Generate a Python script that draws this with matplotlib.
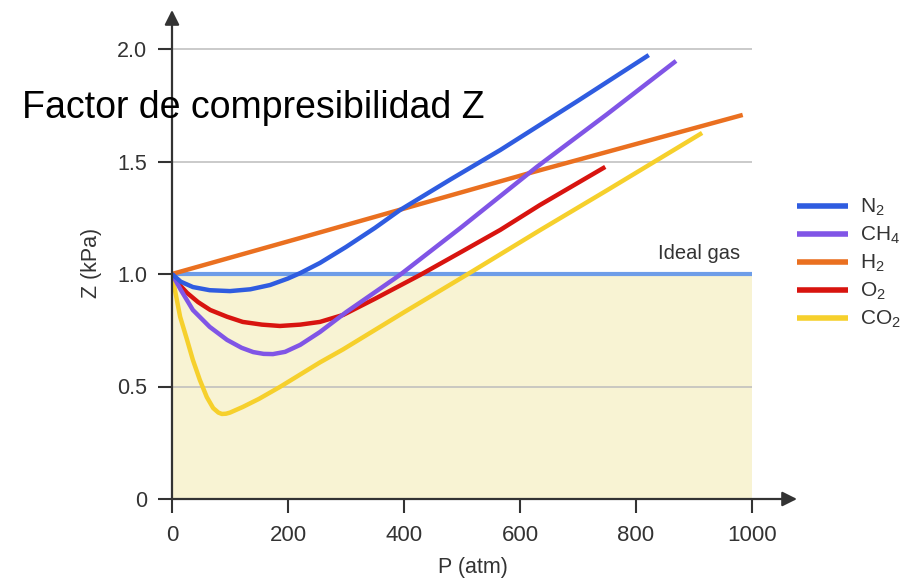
import matplotlib
matplotlib.use("Agg")
import matplotlib.pyplot as plt

# ---------------- data ----------------
n2_p = [0, 15, 36, 65, 100, 135, 169, 200, 221, 255, 300, 350, 393, 480, 566, 700, 822]
n2_z = [1.0, 0.966, 0.942, 0.928, 0.924, 0.932, 0.951, 0.98, 1.004, 1.049, 1.12, 1.205, 1.284, 1.42, 1.551, 1.77, 1.973]

ch4_p = [0, 15, 36, 65, 95, 120, 140, 158, 174, 195, 221, 255, 300, 393, 500, 629, 750, 869]
ch4_z = [1.0, 0.93, 0.84, 0.765, 0.707, 0.672, 0.653, 0.645, 0.644, 0.654, 0.685, 0.742, 0.83, 0.996, 1.21, 1.476, 1.71, 1.947]

h2_p = [0, 221, 617, 984]
h2_z = [1.0, 1.16, 1.449, 1.707]

o2_p = [0, 10, 26, 45, 66, 95, 122, 155, 186, 221, 255, 295, 350, 428, 500, 566, 634, 747]
o2_z = [1.0, 0.96, 0.916, 0.875, 0.84, 0.81, 0.787, 0.775, 0.769, 0.775, 0.787, 0.818, 0.89, 0.996, 1.1, 1.196, 1.306, 1.476]

co2_p = [0, 5, 14, 26, 36, 48, 60, 71, 80, 86, 93, 100, 122, 150, 186, 255, 295, 400, 509, 634, 750, 914]
co2_z = [1.0, 0.93, 0.81, 0.707, 0.618, 0.529, 0.453, 0.404, 0.384, 0.378, 0.379, 0.384, 0.409, 0.445, 0.498, 0.607, 0.665, 0.83, 0.998, 1.194, 1.372, 1.627]

series_names = ["N$_2$", "CH$_4$", "H$_2$", "O$_2$", "CO$_2$"]
series_colors = ["#2f5ce0", "#8055e6", "#ea7020", "#d8140f", "#f6d02c"]

x_ticks = [0, 200, 400, 600, 800, 1000]
x_ticklabels = ["0", "200", "400", "600", "800", "1000"]
y_ticks = [0, 0.5, 1.0, 1.5, 2.0]
y_ticklabels = ["0", "0.5", "1.0", "1.5", "2.0"]
grid_levels = [0.5, 1.5, 2.0]
ideal_z = 1.0

title = "Factor de compresibilidad Z"
xlabel = "P (atm)"
ylabel = "Z (kPa)"
ideal_label = "Ideal gas"

# ---------------- fonts ----------------
base_font = "Liberation Sans"
plt.rcParams["font.family"] = [base_font, "DejaVu Sans"]
plt.rcParams["mathtext.fontset"] = "custom"
plt.rcParams["mathtext.rm"] = base_font
plt.rcParams["mathtext.it"] = base_font
plt.rcParams["mathtext.bf"] = base_font

W, H = 918, 580
fig = plt.figure(figsize=(W / 100, H / 100), dpi=100)

# axes: x 0 at px 172, 1000 at px 752 ; y 0 at px 499, 2.0 at px 49
x0px, y0px = 172, 499
xppu = 0.58
yppu = 225.0
xmax = (797 - x0px) / xppu
ymax = (y0px - 10) / yppu
ax = fig.add_axes([x0px / W, (H - y0px) / H, (797 - x0px) / W, (y0px - 10) / H])
ax.set_xlim(0, xmax)
ax.set_ylim(0, ymax)
for s in ax.spines.values():
    s.set_visible(False)

axis_col = "#333333"
ax.fill_between([0, 1000], 0, ideal_z, color="#f8f3d3", zorder=0, lw=0)
ax.hlines(grid_levels, 0, 1000, color="#bcbcbc", lw=1.1, zorder=1)
ax.hlines([ideal_z], 0, 1000, color="#6e9de8", lw=3, zorder=2)
ax.text(909, 1.09, ideal_label, ha="center", va="center", fontsize=14.5, color="#333333")

series = [(n2_p, n2_z), (ch4_p, ch4_z), (h2_p, h2_z), (o2_p, o2_z), (co2_p, co2_z)]
draw_order = [2, 3, 4, 1, 0]
handles = [None] * 5
for i in draw_order:
    p, z = series[i]
    (ln,) = ax.plot(p, z, color=series_colors[i], lw=3.2, solid_capstyle="butt",
                    solid_joinstyle="round", zorder=3 + draw_order.index(i))
    handles[i] = ln

# axis arrows
ax.annotate("", xy=(1.0, 0), xytext=(0, 0), xycoords="axes fraction",
            arrowprops=dict(arrowstyle="-|>", color=axis_col, lw=1.6, mutation_scale=22,
                            shrinkA=0, shrinkB=0), annotation_clip=False, zorder=10)
ax.annotate("", xy=(0, 1.0), xytext=(0, 0), xycoords="axes fraction",
            arrowprops=dict(arrowstyle="-|>", color=axis_col, lw=1.6, mutation_scale=22,
                            shrinkA=0, shrinkB=0), annotation_clip=False, zorder=10)

ax.set_xticks(x_ticks)
ax.set_xticklabels(x_ticklabels)
ax.set_yticks(y_ticks)
ax.set_yticklabels(y_ticklabels)
ax.tick_params(axis="both", direction="out", length=10, width=1.5, color=axis_col,
               labelcolor="#333333")
ax.tick_params(axis="y", labelsize=15.5, pad=8)
ax.tick_params(axis="x", labelsize=16, pad=9)

fig.text(473 / W, 1 - 568 / H, xlabel, ha="center", va="center", fontsize=15.5,
         color="#333333")
fig.text(92 / W, 1 - 263 / H, ylabel, ha="center", va="center", fontsize=15.5,
         color="#333333", rotation=90)
fig.text(22 / W, 1 - 108 / H, title, ha="left", va="center", fontsize=27, color="black")

leg = fig.legend(handles, series_names, loc="upper left",
                 bbox_to_anchor=(797 / W, 1 - 197 / H), bbox_transform=fig.transFigure,
                 frameon=False, fontsize=15, handlelength=2.45, handletextpad=0.55,
                 labelspacing=0.32, borderpad=0, borderaxespad=0)
for t in leg.get_texts():
    t.set_color("#333333")
for lh in leg.get_lines():
    lh.set_linewidth(4)

fig.savefig("out.png", dpi=100)
